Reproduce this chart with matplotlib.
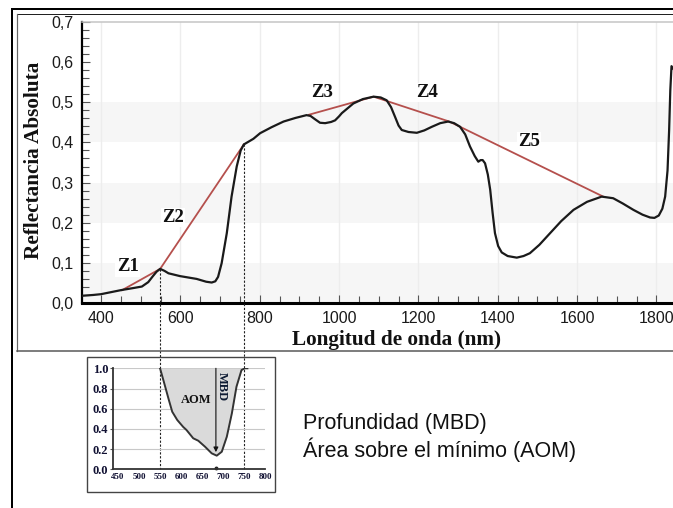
import matplotlib
matplotlib.use('Agg')
import matplotlib.pyplot as plt
from matplotlib.lines import Line2D
from matplotlib.patches import Rectangle
from matplotlib.ticker import MultipleLocator, FuncFormatter

# Espectro de reflectancia (nm, reflectancia absoluta)
wl = [352, 380, 400, 425, 450, 480, 503, 519, 530, 540, 549, 560, 570, 599,
      641, 665, 679, 688, 695, 704, 717, 729, 742, 752, 760, 784, 801, 830,
      860, 890, 918, 928, 939, 952, 965, 980, 990, 1000, 1007, 1036, 1060,
      1087, 1105, 1120, 1131, 1141, 1150, 1158, 1175, 1196, 1215, 1234, 1255,
      1275, 1290, 1305, 1318, 1330, 1342, 1351, 1357, 1362, 1368, 1375, 1381,
      1387, 1393, 1401, 1410, 1425, 1448, 1465, 1481, 1505, 1532, 1560, 1591,
      1625, 1662, 1691, 1715, 1742, 1765, 1784, 1795, 1806, 1815, 1822, 1828,
      1832, 1835, 1838, 1845, 1860]
refl = [0.018, 0.020, 0.022, 0.027, 0.032, 0.037, 0.041, 0.052, 0.066, 0.078,
        0.085, 0.080, 0.074, 0.067, 0.060, 0.053, 0.051, 0.054, 0.065, 0.099,
        0.174, 0.265, 0.340, 0.380, 0.395, 0.409, 0.423, 0.438, 0.452, 0.461,
        0.468, 0.466, 0.458, 0.449, 0.448, 0.451, 0.455, 0.465, 0.473, 0.497,
        0.508, 0.514, 0.512, 0.505, 0.488, 0.464, 0.442, 0.431, 0.426, 0.424,
        0.430, 0.439, 0.448, 0.452, 0.448, 0.439, 0.420, 0.390, 0.366, 0.352,
        0.356, 0.356, 0.348, 0.320, 0.282, 0.225, 0.174, 0.142, 0.126, 0.117,
        0.113, 0.117, 0.124, 0.145, 0.174, 0.204, 0.232, 0.252, 0.265, 0.261,
        0.248, 0.232, 0.220, 0.213, 0.212, 0.218, 0.235, 0.265, 0.330, 0.430,
        0.530, 0.590, 0.580, 0.575]

# Envolvente (continuo) por tramos
hull_a_wl = [453, 549, 760]
hull_a_val = [0.032, 0.085, 0.395]
hull_b_wl = [924, 1087, 1278, 1666]
hull_b_val = [0.469, 0.514, 0.452, 0.265]

zone_labels = ['Z1', 'Z2', 'Z3', 'Z4', 'Z5']
zone_wl = [467, 581, 956, 1221, 1479]
zone_val = [0.090, 0.213, 0.524, 0.524, 0.402]

# Limites de la banda de absorcion (lineas guia)
band_wl = [549, 760]
band_val = [0.085, 0.395]

# Espectro con el continuo removido
cr_wl = [550, 559, 571, 579, 591, 605, 613, 629, 641, 657, 673, 685, 697,
         709, 721, 732, 744, 752, 758]
cr_val = [1.0, 0.867, 0.686, 0.57, 0.488, 0.42, 0.389, 0.307, 0.283, 0.224,
          0.158, 0.135, 0.174, 0.323, 0.554, 0.818, 0.983, 1.0, 1.0]
mbd_wl = 683
mbd_min = 0.17

W, H = 673, 508
fig = plt.figure(figsize=(W / 100, H / 100), dpi=100)


def fx(x):
    return x / W


def fy(y):
    return 1 - y / H


serif = 'Liberation Serif'
sans = 'Liberation Sans'

# marcos de la figura
frame = [((12, 8.5), (673, 8.5), 'black', 2.0),
         ((12, 8.5), (12, 508), 'black', 2.0),
         ((16.5, 13.5), (673, 13.5), '#222222', 1.0),
         ((16.5, 13.5), (16.5, 351), '#666666', 1.2),
         ((16.5, 351), (673, 351), '#555555', 1.5),
         ((82, 22), (673, 22), '#c4c4c4', 1.5)]
for p0, p1, c, lw in frame:
    fig.add_artist(Line2D([fx(p0[0]), fx(p1[0])], [fy(p0[1]), fy(p1[1])],
                          color=c, lw=lw * 0.72))

# grafico principal
px_per_nm = 0.3967
x0, x1 = 352, 1900
ax = fig.add_axes([fx(82), fy(303), (x1 - x0) * px_per_nm / W, (303 - 22) / H])
ax.set_xlim(x0, x1)
ax.set_ylim(0, 0.7)

for lo in [0.0, 0.2, 0.4]:
    ax.axhspan(lo, lo + 0.1, color='#f6f6f6', zorder=0, lw=0)
ax.grid(axis='x', which='major', color='#ededed', lw=1)
ax.set_axisbelow(True)

ax.plot(hull_a_wl, hull_a_val, color='#b5504d', lw=1.3, zorder=2)
ax.plot(hull_b_wl, hull_b_val, color='#b5504d', lw=1.3, zorder=2)
ax.plot(wl, refl, color='#1a1a1a', lw=1.6, zorder=3)

for lab, x, y in zip(zone_labels, zone_wl, zone_val):
    ax.text(x, y, lab, family=serif, fontweight='bold', fontsize=13.5,
            ha='center', va='center', color='#111111', zorder=4,
            bbox=dict(facecolor='white', edgecolor='none', pad=1))

# lineas guia hacia el recuadro inferior
inset_bottom = -(469.3 - 303) / 401.4
for x, y in zip(band_wl, band_val):
    ax.plot([x, x], [y, inset_bottom], color='#222222', lw=0.8,
            ls=(0, (2, 1.5)), clip_on=False, zorder=5)

ax.xaxis.set_major_locator(MultipleLocator(200))
ax.xaxis.set_minor_locator(MultipleLocator(50))
ax.yaxis.set_major_locator(MultipleLocator(0.1))
ax.yaxis.set_minor_locator(MultipleLocator(0.02))
ax.yaxis.set_major_formatter(FuncFormatter(lambda v, p: f'{v:.1f}'.replace('.', ',')))
ax.tick_params(which='both', direction='in', color='#555555', width=0.8)
ax.tick_params(which='major', length=6, labelsize=11.5, labelcolor='#1a1a1a', pad=6)
ax.tick_params(which='minor', length=5)
for t in ax.get_xticklabels() + ax.get_yticklabels():
    t.set_family(sans)

ax.spines['left'].set_linewidth(1.6)
ax.spines['bottom'].set_linewidth(2.2)
ax.spines['top'].set_visible(False)
ax.spines['right'].set_visible(False)

fig.text(fx(34), fy(160), 'Reflectancia Absoluta', rotation=90, family=serif,
         fontweight='bold', fontsize=15.3, ha='center', va='center', color='#111111')
fig.text(fx(397), fy(340), 'Longitud de onda (nm)', family=serif,
         fontweight='bold', fontsize=15.3, ha='center', va='center', color='#111111')

# recuadro: espectro con continuo removido
fig.add_artist(Rectangle((fx(87), fy(492)), 188 / W, 135 / H, facecolor='none',
                         edgecolor='#444444', lw=1.0))
ix0, ix1 = 438, 800
axi = fig.add_axes([fx(113), fy(469.3), (ix1 - ix0) * 0.42 / W, 101 / H])
axi.set_facecolor('none')
axi.set_xlim(ix0, ix1)
axi.set_ylim(0, 1.0)
axi.set_xticks([450, 500, 550, 600, 650, 700, 750, 800])
axi.set_yticks([0.0, 0.2, 0.4, 0.6, 0.8, 1.0])
axi.yaxis.set_major_formatter(FuncFormatter(lambda v, p: f'{v:.1f}'))
axi.grid(axis='y', color='#c8c8c8', lw=0.8)
axi.set_axisbelow(True)
axi.fill_between(cr_wl, cr_val, 1.0, color='#dadada', lw=0)
axi.plot(cr_wl, cr_val, color='#333333', lw=1.4)
axi.annotate('', xy=(mbd_wl, mbd_min), xytext=(mbd_wl, 1.0),
             arrowprops=dict(arrowstyle='-|>', color='#111111', lw=0.8,
                             mutation_scale=7, shrinkA=0, shrinkB=0))
axi.plot([mbd_wl], [0.01], marker='o', ms=1.8, color='#222222', clip_on=False)
axi.text(697, 0.82, 'MBD', rotation=-90, family=serif, fontweight='bold',
         fontsize=9, ha='center', va='center', color='#0d1a33')
axi.text(637, 0.686, 'AOM', family=serif, fontweight='bold', fontsize=9,
         ha='center', va='center', color='#111111')
axi.tick_params(axis='y', length=2.5, width=0.8, color='#555555', pad=1,
                labelsize=9, labelcolor='#111133')
axi.tick_params(axis='x', length=0, pad=3, labelsize=6.5, labelcolor='#111133')
for t in axi.get_xticklabels() + axi.get_yticklabels():
    t.set_family(serif)
    t.set_fontweight('bold')
for s in ['top', 'right']:
    axi.spines[s].set_visible(False)
for s in ['left', 'bottom']:
    axi.spines[s].set_linewidth(1.3)
    axi.spines[s].set_color('#333333')

fig.text(fx(303), fy(429), 'Profundidad (MBD)', family=sans, fontsize=15.5,
         ha='left', va='baseline', color='#111111')
fig.text(fx(303), fy(457), 'Área sobre el mínimo (AOM)', family=sans, fontsize=15.5,
         ha='left', va='baseline', color='#111111')

fig.savefig('out.png', dpi=100)
